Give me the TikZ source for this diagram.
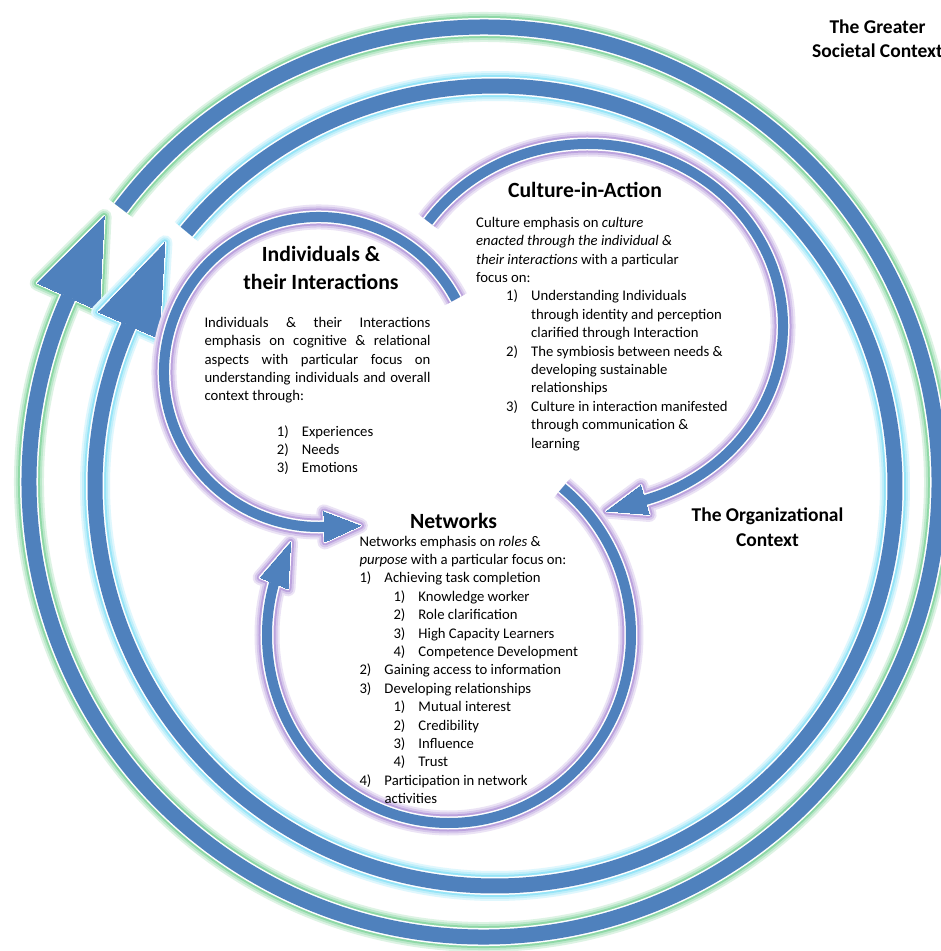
\documentclass[tikz,border=0pt]{standalone}
\usepackage{fontspec}
\setmainfont{Carlito}
\usepackage{tikz}
\usetikzlibrary{calc}

\definecolor{ringblue}{HTML}{4F81BD}
\definecolor{glowgreen}{HTML}{8ED8A6}
\definecolor{glowcyan}{HTML}{96E4F7}
\definecolor{glowpurple}{HTML}{BBA2DD}

% glowing circular arrow: glow colour, shaft width, arc, head direction, head length, head width
\newcommand{\glowarrow}[6]{%
  \foreach \ex/\col in {15/#1!30, 11/#1!60, 7/#1, 3/white, 0/ringblue} {
    \draw[line width={#2pt+\ex pt}, draw=\col] #3 coordinate (hb);
    \filldraw[line width=\ex pt, draw=\col, fill=\col, line join=round]
      ($(hb)+({#4}:{#5})$) -- ($(hb)+({#4+90}:{#6/2})$) -- ($(hb)+({#4-90}:{#6/2})$) -- cycle;
  }%
}
\newcommand{\numitem}[2]{\hspace*{#1}\makebox[25pt][l]{#2}}

\begin{document}
\begin{tikzpicture}[x=1pt, y=-1pt,
  hd/.style={font=\fontsize{21.7}{27.3}\selectfont\bfseries, inner sep=0pt, anchor=base},
  ctx/.style={font=\fontsize{19.5}{24}\selectfont\bfseries, inner sep=0pt, anchor=base},
  body/.style={font=\fontsize{14.7}{18.4}\selectfont, inner sep=0pt, anchor=base west}]
  \useasboundingbox (0,0) rectangle (941,951);
  \fill[white] (0,0) rectangle (941,951);

  % Outer rings
  \glowarrow{glowgreen}{15}{(484,482) ++(217:455) arc[start angle=217, end angle=564, radius=455]}{294}{88}{68}
  \glowarrow{glowcyan}{15}{(495,486) ++(219.5:400) arc[start angle=219.5, end angle=563.7, radius=400]}{293.7}{90}{66}

  % Inner cycle
  \glowarrow{glowpurple}{10}{(319,372) ++(332:155) arc[start angle=332, end angle=88, radius=155]}{-2}{36}{30}
  \glowarrow{glowpurple}{10}{(588,326) ++(215:195 and 182) arc[start angle=215, end angle=433, x radius=195, y radius=182]}{164}{40}{30}
  \glowarrow{glowpurple}{10}{(449,635) ++(308.5:182 and 188) arc[start angle=308.5, end angle=556, x radius=182, y radius=188]}{292}{44}{30}

  % Context labels
  \node[ctx] (greater) at (877.5,33) {The Greater};
  \node[ctx] (greater2) at (877.5,57) {Societal Context};
  \node[ctx] (org) at (767.5,521.7) {The Organizational};
  \node[ctx] (org2) at (767.5,546) {Context};

  % Individuals & their Interactions
  \node[hd] (indhead) at (321,261.7) {Individuals \&};
  \node[hd] (indhead2) at (321,289) {their Interactions};
  \node[body] (indtxt) at (204.3,327.3) {\parbox[t]{226pt}{%
    Individuals \& their Interactions\linebreak
    emphasis on cognitive \& relational\linebreak
    aspects with particular focus on\linebreak
    understanding individuals and overall\linebreak
    context through:}};
  \node[body] (indlist) at (276.7,436) {\parbox[t]{150pt}{%
    \numitem{0pt}{1)}Experiences\\
    \numitem{0pt}{2)}Needs\\
    \numitem{0pt}{3)}Emotions}};

  % Culture-in-Action
  \node[hd] (culthead) at (585,197) {Culture-in-Action};
  \node[body] (culttxt) at (476,227.3) {\parbox[t]{300pt}{%
    Culture emphasis on \textit{culture}\\
    \textit{enacted through the individual \&}\\
    \textit{their interactions} with a particular\\
    focus on:\\
    \numitem{30pt}{1)}Understanding Individuals\\
    \hspace*{55pt}through identity and perception\\
    \hspace*{55pt}clarified through Interaction\\
    \numitem{30pt}{2)}The symbiosis between needs \&\\
    \hspace*{55pt}developing sustainable\\
    \hspace*{55pt}relationships\\
    \numitem{30pt}{3)}Culture in interaction manifested\\
    \hspace*{55pt}through communication \&\\
    \hspace*{55pt}learning}};

  % Networks
  \node[hd] (nethead) at (453.5,528) {Networks};
  \node[body] (nettxt) at (359.3,546) {\parbox[t]{260pt}{%
    Networks emphasis on \textit{roles} \&\\
    \textit{purpose} with a particular focus on:\\
    \numitem{0pt}{1)}Achieving task completion\\
    \numitem{34pt}{1)}Knowledge worker\\
    \numitem{34pt}{2)}Role clarification\\
    \numitem{34pt}{3)}High Capacity Learners\\
    \numitem{34pt}{4)}Competence Development\\
    \numitem{0pt}{2)}Gaining access to information\\
    \numitem{0pt}{3)}Developing relationships\\
    \numitem{34pt}{1)}Mutual interest\\
    \numitem{34pt}{2)}Credibility\\
    \numitem{34pt}{3)}Influence\\
    \numitem{34pt}{4)}Trust\\
    \numitem{0pt}{4)}Participation in network\\
    \hspace*{25pt}activities}};
\end{tikzpicture}
\end{document}
